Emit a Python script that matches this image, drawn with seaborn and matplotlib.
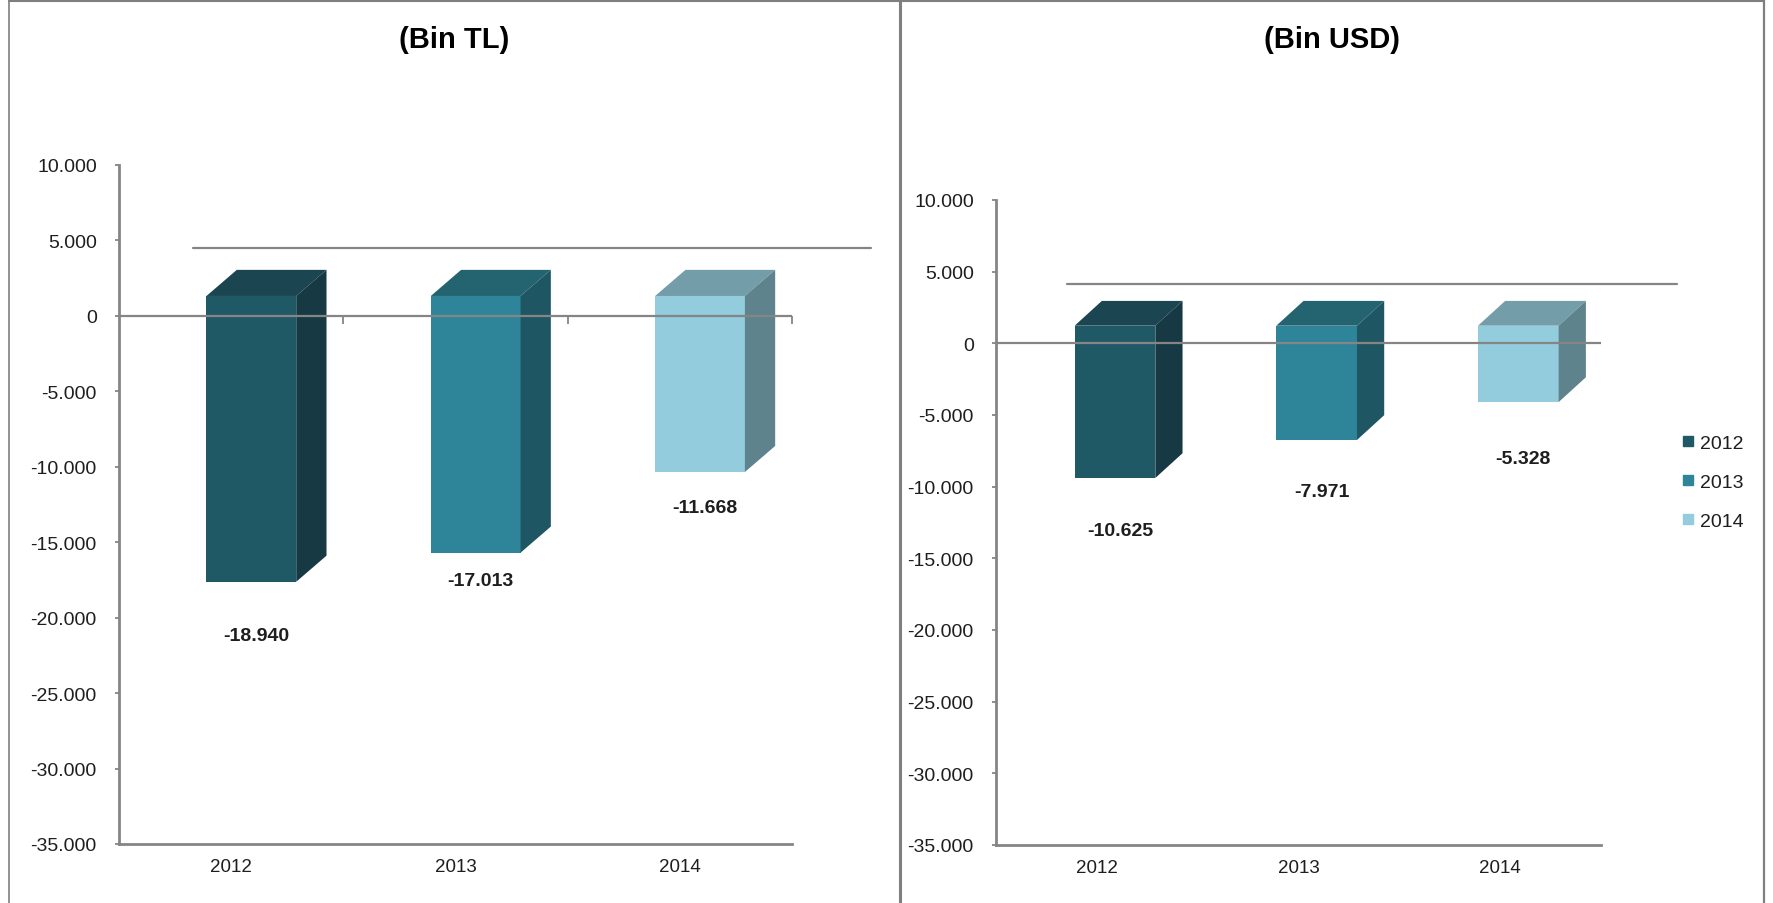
import matplotlib
matplotlib.use("Agg")
import matplotlib.pyplot as plt
import seaborn as sns
import pandas as pd
from matplotlib.patches import Polygon
from matplotlib.lines import Line2D

# ---------------- data ----------------
years = ["2012", "2013", "2014"]
tl_values = [-18940, -17013, -11668]
usd_values = [-10625, -7971, -5328]
tl_labels = ["-18.940", "-17.013", "-11.668"]
usd_labels = ["-10.625", "-7.971", "-5.328"]
y_ticks = [10000, 5000, 0, -5000, -10000, -15000, -20000, -25000, -30000, -35000]
y_tick_labels = ["10.000", "5.000", "0", "-5.000", "-10.000", "-15.000",
                 "-20.000", "-25.000", "-30.000", "-35.000"]
titles = ["(Bin TL)", "(Bin USD)"]

# ---------------- style ----------------
front_colors = ["#1F5966", "#2E8599", "#93CCDD"]
side_colors = ["#163943", "#1F5663", "#5E838D"]
top_colors = ["#1B4550", "#246470", "#739DA8"]
GRAY = "#858585"
TEXT = "#1E1E1E"

sns.set_theme(style="white")
plt.rcParams["font.family"] = ["Liberation Sans", "DejaVu Sans"]

W, H = 1774, 904
fig = plt.figure(figsize=(W / 100, H / 100), dpi=100)


def px_axes(x0, x1, ytop, ybot):
    return fig.add_axes([x0 / W, 1 - ybot / H, (x1 - x0) / W, (ybot - ytop) / H])


ax1 = px_axes(119, 792, 166, 845)
ax2 = px_axes(996, 1601, 201, 846)


def draw_panel(ax, values, labels, lift, back_y, back_x, label_offsets, boundary_ticks):
    df = pd.DataFrame({"year": years, "value": values})
    sns.barplot(data=df, x="year", y="value", hue="year", palette=front_colors,
                dodge=False, width=0.4, legend=False, saturation=1, ax=ax, zorder=3)
    ax.set_xlim(-0.5, 2.5)
    ax.set_ylim(-35000, 10000)

    dx, dy, shift = 0.135, 1730, 0.09
    for p in list(ax.patches):
        w = p.get_width()
        h = p.get_height()
        i = int(round(p.get_x() + w / 2))
        x0 = p.get_x() + shift
        x1 = x0 + w
        p.set_x(x0)
        p.set_y(lift)
        p.set_linewidth(0)
        ytop = lift
        ybot = lift + h
        top = Polygon([(x0, ytop), (x0 + dx, ytop + dy), (x1 + dx, ytop + dy), (x1, ytop)],
                      closed=True, facecolor=top_colors[i], edgecolor="none", zorder=3)
        side = Polygon([(x1, ybot), (x1, ytop), (x1 + dx, ytop + dy), (x1 + dx, ybot + dy)],
                       closed=True, facecolor=side_colors[i], edgecolor="none", zorder=3)
        ax.add_patch(top)
        ax.add_patch(side)
        ax.annotate(labels[i], xy=((x0 + x1) / 2, ybot), xytext=(5, -label_offsets[i]),
                    textcoords="offset pixels", ha="center", va="center",
                    fontsize=14, fontweight="bold", color=TEXT, zorder=7)

    # zero line (drawn over the bars) and back-wall line
    ax.axhline(0, color=GRAY, lw=1.6, zorder=6)
    ax.plot(back_x, [back_y, back_y], color=GRAY, lw=1.6, clip_on=False, zorder=1)
    if boundary_ticks:
        ax.vlines([0.5, 1.5, 2.5], -550, 0, color=GRAY, lw=1.3, zorder=6, clip_on=False)

    ax.set_yticks(y_ticks)
    ax.set_yticklabels(y_tick_labels)
    ax.set_xlabel("")
    ax.set_ylabel("")
    for s in ["top", "right"]:
        ax.spines[s].set_visible(False)
    for s in ["left", "bottom"]:
        ax.spines[s].set_color(GRAY)
        ax.spines[s].set_linewidth(2)
    ax.tick_params(axis="y", direction="out", length=3, width=1.3, color=GRAY,
                   labelsize=14, labelcolor=TEXT, pad=13, left=True)
    ax.tick_params(axis="x", length=0, labelsize=13.5, labelcolor=TEXT, pad=10)
    ax.set_facecolor("none")


draw_panel(ax1, tl_values, tl_labels, lift=1320, back_y=4490, back_x=[-0.17, 2.85],
           label_offsets=[54, 28, 35], boundary_ticks=True)
draw_panel(ax2, usd_values, usd_labels, lift=1230, back_y=4120, back_x=[-0.15, 2.875],
           label_offsets=[53, 52, 56], boundary_ticks=False)

# titles
fig.text(454 / W, 1 - 40 / H, titles[0], ha="center", va="center",
         fontsize=21, fontweight="bold", color="#000000")
fig.text(1332 / W, 1 - 40 / H, titles[1], ha="center", va="center",
         fontsize=21, fontweight="bold", color="#000000")

# legend
handles = [Line2D([], [], marker="s", ls="", color=c, markersize=7) for c in front_colors]
fig.legend(handles=handles, labels=years, loc="center left",
           bbox_to_anchor=(1674 / W, 1 - 483 / H), frameon=False, fontsize=14,
           handlelength=0.6, handletextpad=0.35, labelspacing=1.1,
           labelcolor=TEXT, borderaxespad=0)

# panel frames
def fline(x0, y0, x1, y1, lw):
    fig.add_artist(Line2D([x0 / W, x1 / W], [1 - y0 / H, 1 - y1 / H],
                          transform=fig.transFigure, color="#7F7F7F", lw=lw))


fline(9, 1.5, 1764, 1.5, 1.5)
fline(9.5, 0, 9.5, H, 1.2)
fline(900, 0, 900, H, 2.2)
fline(1764, 0, 1764, H, 1.6)

fig.savefig("out.png", dpi=100, facecolor="white")
